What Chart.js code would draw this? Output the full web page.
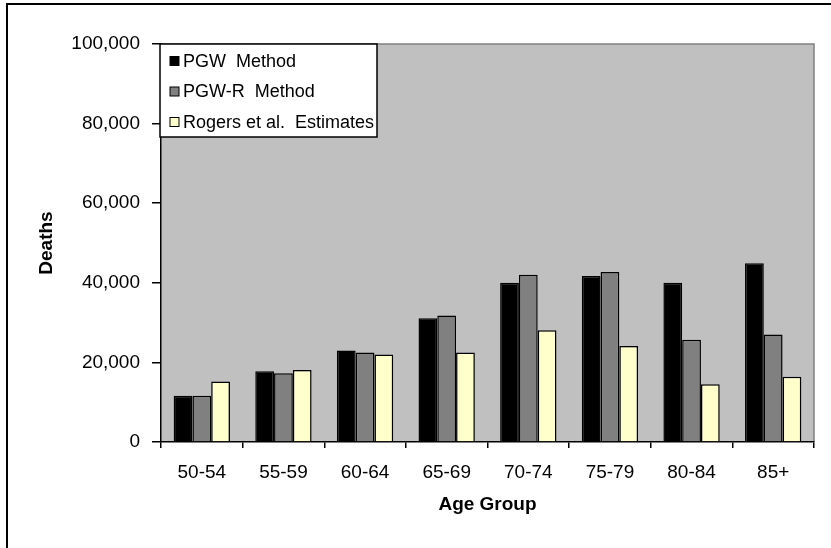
<!DOCTYPE html>
<html>
<head>
<meta charset="utf-8">
<script src="https://cdn.jsdelivr.net/npm/chart.js@4.4.1/dist/chart.umd.min.js"></script>
<style>
  html, body { margin: 0; padding: 0; background: #fff; }
  #wrap { width: 831px; height: 548px; }
</style>
</head>
<body>
<div id="wrap"><canvas id="deathsChart" width="831" height="548"></canvas></div>
<script>
// Datos
const ageGroups = ['50-54', '55-59', '60-64', '65-69', '70-74', '75-79', '80-84', '85+'];
const pgwMethod = [11600, 17800, 23000, 31100, 40000, 41700, 40000, 44900];
const pgwRMethod = [11600, 17300, 22500, 31800, 42000, 42700, 25700, 27000];
const rogersEstimates = [15200, 18100, 22000, 22500, 28100, 24100, 14500, 16400];
const yTicks = [0, 20000, 40000, 60000, 80000, 100000];

const FONT = 'Liberation Sans, Arial, sans-serif';

// Fondo gris del área de trazado y marco exterior
const plotBackground = {
    id: 'plotBackground',
    beforeDraw(chart) {
        const { ctx, chartArea: a } = chart;
        ctx.save();
        ctx.fillStyle = '#C0C0C0';
        ctx.fillRect(a.left, a.top, a.right - a.left, a.bottom - a.top);
        ctx.strokeStyle = '#808080';
        ctx.lineWidth = 1.5;
        ctx.beginPath();
        ctx.moveTo(a.left, a.top);
        ctx.lineTo(a.right, a.top);
        ctx.lineTo(a.right, a.bottom);
        ctx.stroke();
        // marco del gráfico
        ctx.strokeStyle = '#000';
        ctx.lineWidth = 2;
        ctx.beginPath();
        ctx.moveTo(7, chart.height);
        ctx.lineTo(7, 4);
        ctx.lineTo(chart.width, 4);
        ctx.stroke();
        ctx.restore();
    }
};

// Leyenda dentro del área de trazado, arriba a la izquierda
const boxLegend = {
    id: 'boxLegend',
    afterDraw(chart) {
        const { ctx, chartArea: a } = chart;
        const x = a.left - 1, y = a.top, w = 217, h = 93;
        ctx.save();
        ctx.fillStyle = '#fff';
        ctx.fillRect(x, y, w, h);
        ctx.strokeStyle = '#000';
        ctx.lineWidth = 1.5;
        ctx.strokeRect(x, y, w, h);
        ctx.font = '18px ' + FONT;
        ctx.textBaseline = 'middle';
        chart.data.datasets.forEach((ds, i) => {
            const cy = y + 17 + i * 30.5;
            ctx.fillStyle = ds.backgroundColor;
            ctx.fillRect(x + 10, cy - 4.5, 9, 9);
            ctx.lineWidth = 1;
            ctx.strokeRect(x + 10, cy - 4.5, 9, 9);
            ctx.fillStyle = '#000';
            ctx.fillText(ds.label, x + 23, cy + 1);
        });
        ctx.restore();
    }
};

new Chart(document.getElementById('deathsChart').getContext('2d'), {
    type: 'bar',
    data: {
        labels: ageGroups,
        datasets: [
            { label: 'PGW  Method', data: pgwMethod, backgroundColor: '#000000' },
            { label: 'PGW-R  Method', data: pgwRMethod, backgroundColor: '#808080' },
            { label: 'Rogers et al.  Estimates', data: rogersEstimates, backgroundColor: '#FFFFCC' }
        ]
    },
    options: {
        responsive: false,
        animation: false,
        datasets: {
            bar: {
                borderColor: '#000',
                borderWidth: 1.5,
                barPercentage: 1.0,
                categoryPercentage: 0.69
            }
        },
        layout: { padding: { left: 0, top: 44, right: 17, bottom: 0 } },
        plugins: {
            legend: { display: false },
            tooltip: { enabled: false }
        },
        scales: {
            x: {
                grid: { offset: true, drawOnChartArea: false, drawTicks: true, tickLength: 6, color: '#000', lineWidth: 1.5 },
                border: { color: '#000', width: 1.5 },
                ticks: { color: '#000', font: { family: FONT, size: 19 }, padding: 13, maxRotation: 0 },
                title: { display: true, text: 'Age Group', color: '#000', font: { family: FONT, size: 19, weight: 'bold' }, padding: { top: 0, bottom: 32 } },
                afterFit(scale) { scale.height = 106; }
            },
            y: {
                min: 0,
                max: 100000,
                afterBuildTicks(scale) { scale.ticks = yTicks.map(v => ({ value: v })); },
                grid: { drawOnChartArea: false, drawTicks: true, tickLength: 9, color: '#000', lineWidth: 1.5 },
                border: { color: '#000', width: 1.5 },
                ticks: {
                    color: '#000',
                    font: { family: FONT, size: 19 },
                    padding: 12,
                    callback: v => v.toLocaleString('en-US')
                },
                title: { display: true, text: 'Deaths', color: '#000', font: { family: FONT, size: 19, weight: 'bold' }, padding: { top: 35, bottom: 0 } },
                afterFit(scale) { scale.width = 161; }
            }
        }
    },
    plugins: [plotBackground, boxLegend]
});
</script>
</body>
</html>
